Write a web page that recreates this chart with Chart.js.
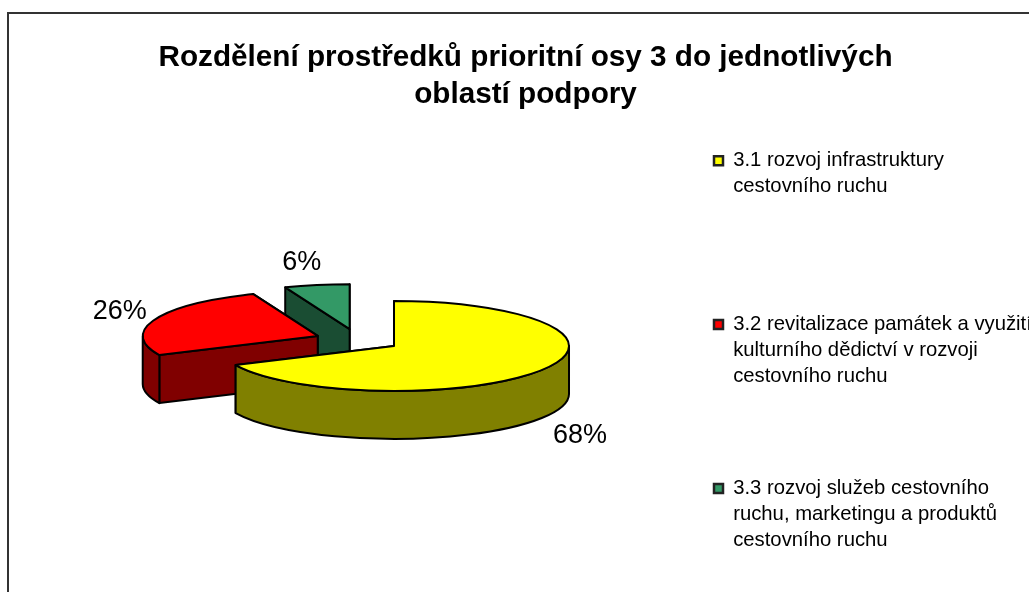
<!DOCTYPE html>
<html lang="cs">
<head>
<meta charset="utf-8">
<style>
html,body{margin:0;padding:0;background:#fff;overflow:hidden;width:1029px;height:592px}
#frame{position:absolute;left:7px;top:12px;width:1040px;height:600px;border:2px solid #333;box-sizing:border-box}
canvas{display:block}
</style>
<script src="https://cdn.jsdelivr.net/npm/chart.js@4"></script>
</head>
<body>
<div id="frame"><canvas id="c" width="1033" height="720"></canvas></div>
<script>
const chartTitle = ['Rozdělení prostředků prioritní osy 3 do jednotlivých', 'oblastí podpory'];
const categories = [
  ['3.1 rozvoj infrastruktury', 'cestovního ruchu'],
  ['3.2 revitalizace památek a využití', 'kulturního dědictví v rozvoji', 'cestovního ruchu'],
  ['3.3 rozvoj služeb cestovního', 'ruchu, marketingu a produktů', 'cestovního ruchu']
];
const shares = [68, 26, 6];
const topColors = ['#ffff00', '#ff0000', '#339966'];
const wallColors = ['#808000', '#800000', '#1a4d33'];

const FLATTEN = 0.257, DEPTH = 48, EXPLODE = 43;
const PIE_CENTER = { x: 348.7, y: 326 };
const LEGEND_ORIGIN = { x: 705, y: 136.5 };
const LEGEND_GAP = 86;
const LABEL_OFFSETS = [[186, 90], [-198, -24], [-48, -67]];

const pie3d = {
  id: 'pie3d',
  afterLayout(chart) {
    const area = chart.chartArea;
    area.left = PIE_CENTER.x - 200; area.right = PIE_CENTER.x + 200;
    area.top = PIE_CENTER.y - 200; area.bottom = PIE_CENTER.y + 200;
    area.width = 400; area.height = 400;
    chart.legend.left = LEGEND_ORIGIN.x - LEGEND_GAP;
    chart.legend.top = LEGEND_ORIGIN.y - LEGEND_GAP;
  },
  beforeDatasetDraw() { return false; },
  afterDatasetsDraw(chart) {
    const ctx = chart.ctx, arcs = chart.getDatasetMeta(0).data;
    const total = shares.reduce((a, b) => a + b, 0);
    const geo = arcs.map(a => {
      const { x, y, startAngle: s, endAngle: e, outerRadius: r } = a.getProps(['x', 'y', 'startAngle', 'endAngle', 'outerRadius'], true);
      const m = (s + e) / 2;
      return { s, e, r, cx: x + Math.cos(m) * EXPLODE, cy: y + Math.sin(m) * EXPLODE * FLATTEN };
    });
    ctx.save();
    ctx.lineWidth = 2;
    ctx.strokeStyle = '#000';
    ctx.lineJoin = 'round';
    const pt = (g, a) => [g.cx + Math.cos(a) * g.r, g.cy + Math.sin(a) * g.r * FLATTEN];
    for (let i = geo.length - 1; i >= 0; i--) {
      const g = geo[i];
      // radial walls
      ctx.fillStyle = wallColors[i];
      [g.e, g.s].forEach(a => {
        const p = pt(g, a);
        ctx.beginPath();
        ctx.moveTo(g.cx, g.cy);
        ctx.lineTo(p[0], p[1]);
        ctx.lineTo(p[0], p[1] + DEPTH);
        ctx.lineTo(g.cx, g.cy + DEPTH);
        ctx.closePath();
        ctx.fill();
        ctx.stroke();
      });
      // outer wall, front half only
      const lo = Math.max(g.s, 0), hi = Math.min(g.e, Math.PI);
      if (hi > lo) {
        ctx.beginPath();
        ctx.ellipse(g.cx, g.cy, g.r, g.r * FLATTEN, 0, lo, hi);
        ctx.ellipse(g.cx, g.cy + DEPTH, g.r, g.r * FLATTEN, 0, hi, lo, true);
        ctx.closePath();
        ctx.fill();
        ctx.stroke();
      }
      // top face
      ctx.fillStyle = topColors[i];
      ctx.beginPath();
      ctx.moveTo(g.cx, g.cy);
      ctx.ellipse(g.cx, g.cy, g.r, g.r * FLATTEN, 0, g.s, g.e);
      ctx.closePath();
      ctx.fill();
      ctx.stroke();
    }
    ctx.fillStyle = '#000';
    ctx.font = '27px "Liberation Sans", Arial, sans-serif';
    ctx.textAlign = 'center';
    ctx.textBaseline = 'middle';
    geo.forEach((g, i) => {
      const t = Math.round(shares[i] / total * 100) + '%';
      ctx.fillText(t, g.cx + LABEL_OFFSETS[i][0], g.cy + LABEL_OFFSETS[i][1]);
    });
    ctx.restore();
  }
};

const maxLines = Math.max(...categories.map(c => c.length));

new Chart(document.getElementById('c'), {
  type: 'pie',
  data: {
    labels: categories,
    datasets: [{ data: shares, backgroundColor: topColors, borderColor: '#000', radius: 175 }]
  },
  options: {
    responsive: false,
    animation: false,
    devicePixelRatio: 1,
    plugins: {
      tooltip: { enabled: false },
      title: {
        display: true,
        text: chartTitle,
        color: '#000',
        font: { family: '"Liberation Sans", Arial, sans-serif', size: 29.7, weight: 'bold', lineHeight: 1.246 },
        padding: { top: 25, bottom: 0 }
      },
      legend: {
        position: 'right',
        align: 'start',
        labels: {
          color: '#000',
          boxWidth: 9,
          boxHeight: 9,
          padding: LEGEND_GAP,
          font: { family: '"Liberation Sans", Arial, sans-serif', size: 20.3, lineHeight: 1.28 },
          generateLabels: () => categories.map((text, i) => ({
            text: text.concat(Array(maxLines - text.length).fill('')),
            fillStyle: topColors[i], strokeStyle: '#222', lineWidth: 2.5, hidden: false, index: i
          }))
        }
      }
    }
  },
  plugins: [pie3d]
});
</script>
</body>
</html>
